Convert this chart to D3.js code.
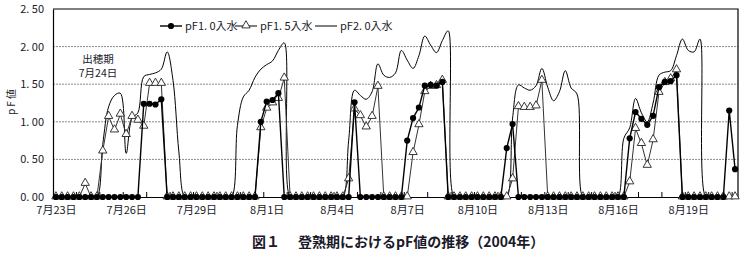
<!DOCTYPE html>
<html>
<head>
<meta charset="utf-8">
<script src="https://cdn.jsdelivr.net/npm/d3@7"></script>
<style>
  body { margin: 0; background: #fff; }
  text { font-family: "Noto Sans CJK JP", "DejaVu Sans", sans-serif; fill: #1a1a2a; }
</style>
</head>
<body>
<div id="chart"></div>
<script>
// 6-hourly readings, 7/23 0:00 .. 8/21 0:00 (117 points)
const dayLabels = ["7月23日", "7月26日", "7月29日", "8月1日", "8月4日", "8月7日", "8月10日", "8月13日", "8月16日", "8月19日"]
const yTicks = [0, 0.5, 1.0, 1.5, 2.0, 2.5]
const seriesNames = ["pF1. 0入水", "pF1. 5入水", "pF2. 0入水"]

const pf10 = [
  0, 0, 0, 0, 0, 0, 0, 0, 0, 0, 0, 0,
  0, 0, 0, 1.24, 1.24, 1.23, 1.30, 0, 0, 0, 0, 0,
  0, 0, 0, 0, 0, 0, 0, 0, 0, 0, 0, 1.00,
  1.27, 1.29, 1.38, 0, 0, 0, 0, 0, 0, 0, 0, 0,
  0, 0, 0, 1.26, 0, 0, 0, 0, 0, 0, 0, 0,
  0.75, 1.05, 1.19, 1.48, 1.49, 1.48, 1.53, 0, 0, 0, 0, 0,
  0, 0, 0, 0, 0, 0.65, 0.97, 0, 0, 0, 0, 0,
  0, 0, 0, 0, 0, 0, 0, 0, 0, 0, 0, 0,
  0, 0, 0.78, 1.13, 1.04, 0.96, 1.08, 1.46, 1.53, 1.54, 1.62, 0,
  0, 0, 0, 0, 0, 0, 0, 1.15, 0.37
]
const pf15 = [
  0, 0, 0, 0, 0, 0.18, 0, 0, 0.61, 1.07, 0.89, 1.10,
  0.83, 1.07, 1.02, 0.94, 1.51, 1.51, 1.51, 0, 0, 0, 0, 0,
  0, 0, 0, 0, 0, 0, 0, 0, 0, 0, 0, 0.92,
  1.18, 1.25, 1.31, 1.58, 0, 0, 0, 0, 0, 0, 0, 0,
  0, 0, 0.24, 1.17, 1.08, 0.93, 1.07, 1.47, 0, 0, 0, 0,
  0, 0.59, 0.96, 1.40, 1.47, 1.48, 1.55, 0, 0, 0, 0, 0,
  0, 0, 0, 0, 0, 0, 0.24, 1.20, 1.19, 1.19, 1.21, 1.55,
  0, 0, 0, 0, 0, 0, 0, 0, 0, 0, 0, 0,
  0, 0, 0.20, 0.91, 0.71, 0.42, 0.76, 1.39, 1.52, 1.57, 1.69, 0,
  0, 0, 0, 0, 0, 0, 0, 0, 0
]
const pf20 = [
  0, 0, 0, 0, 0, 0, 0, 0, 0.70, 1.20, 1.35, 1.38,
  0.58, 1.05, 1.12, 1.60, 1.63, 1.65, 1.70, 1.93, 1.55, 0.60, 0, 0,
  0, 0, 0, 0, 0, 0, 0, 0.95, 1.33, 1.42, 1.59, 1.70,
  1.76, 1.81, 1.95, 2.05, 0, 0, 0, 0, 0, 0, 0, 0,
  0, 0, 0.75, 1.42, 1.35, 1.30, 1.40, 1.77, 1.62, 1.59, 1.65, 1.95,
  1.82, 1.71, 1.88, 2.14, 2.02, 1.92, 2.08, 2.21, 0, 0, 0, 0,
  0, 0, 0, 0, 0, 0, 1.05, 1.49, 1.45, 1.42, 1.48, 1.71,
  1.46, 1.28, 1.40, 1.68, 1.45, 1.37, 0, 0, 0, 0, 0, 0,
  0, 0.78, 0.92, 1.31, 1.12, 1.00, 1.25, 1.62, 1.66, 1.68, 1.88, 2.10,
  1.95, 1.93, 2.10, 0, 0, 0, 0, 0, 0
]

const width = 746, height = 270
const plotL = 53, plotR = 738, plotT = 9, plotB = 197

const svg = d3.select("#chart").append("svg")
    .attr("width", width)
    .attr("height", height)

const x = d3.scalePoint()
    .domain(d3.range(pf10.length))
    .range([plotL, plotR])
    .padding(0.5)
const step = x.step()

const y = d3.scaleLinear()
    .domain([0, 2.5])
    .range([plotB, plotT])

// clip so the smoothed line doesn't dip under the axis
svg.append("clipPath").attr("id", "plotclip")
  .append("rect")
    .attr("x", plotL).attr("y", plotT - 2)
    .attr("width", plotR - plotL).attr("height", plotB - plotT + 2)

// grid lines
svg.selectAll(".grid")
  .data(yTicks.filter(d => d > 0 && d < 2.5))
  .enter().append("line")
    .attr("x1", plotL).attr("x2", plotR)
    .attr("y1", d => y(d)).attr("y2", d => y(d))
    .attr("stroke", "#8a8a8a")
    .attr("stroke-width", 1)
    .attr("stroke-dasharray", "2,1")

// frame (top + right)
svg.append("path")
    .attr("d", `M${plotL},${plotT}H${plotR}V${plotB}`)
    .attr("fill", "none")
    .attr("stroke", "#000")
    .attr("stroke-width", 1.2)

// y axis
const yAxis = svg.append("g")
    .attr("transform", `translate(${plotL},0)`)
    .call(d3.axisLeft(y).tickValues(yTicks).tickSize(0).tickPadding(9)
      .tickFormat(d => d.toFixed(2).replace(".", ". ")))
yAxis.select(".domain").attr("stroke", "#000").attr("stroke-width", 1.2)
yAxis.selectAll("text").style("font-size", "11px")

// x axis, label every 3 days
const xAxis = svg.append("g")
    .attr("transform", `translate(0,${plotB})`)
    .call(d3.axisBottom(x).tickValues(d3.range(0, pf10.length, 12)).tickSize(0).tickPadding(9)
      .tickFormat(i => dayLabels[i / 12]))
xAxis.select(".domain").attr("stroke", "#000").attr("stroke-width", 1.2)
xAxis.selectAll("text").style("font-size", "11px")

// day tick marks, between categories, pointing up
svg.selectAll(".dayTick")
  .data(d3.range(0, pf10.length, 4).slice(1))
  .enter().append("line")
    .attr("x1", d => x(d) - step / 2).attr("x2", d => x(d) - step / 2)
    .attr("y1", plotB).attr("y2", plotB - 5)
    .attr("stroke", "#000")

const idx = d3.range(pf10.length)

// pF2.0 : smooth line, no markers
svg.append("path")
    .datum(idx)
    .attr("clip-path", "url(#plotclip)")
    .attr("fill", "none")
    .attr("stroke", "#000")
    .attr("stroke-width", 1)
    .attr("d", d3.line().x(i => x(i)).y(i => y(pf20[i])).curve(d3.curveCatmullRom.alpha(0.5)))

// pF1.5 : line + open triangles
svg.append("path")
    .datum(idx)
    .attr("fill", "none")
    .attr("stroke", "#333")
    .attr("stroke-width", 1)
    .attr("d", d3.line().x(i => x(i)).y(i => y(pf15[i])))

const tri = d3.symbol().type(d3.symbolTriangle).size(30)
svg.selectAll(".tri")
  .data(idx)
  .enter().append("path")
    .attr("d", tri)
    .attr("transform", i => `translate(${x(i)},${y(pf15[i]) - 0.5})`)
    .attr("fill", "#fff")
    .attr("stroke", "#222")
    .attr("stroke-width", 0.9)

// pF1.0 : line + filled dots
svg.append("path")
    .datum(idx)
    .attr("fill", "none")
    .attr("stroke", "#000")
    .attr("stroke-width", 1.4)
    .attr("d", d3.line().x(i => x(i)).y(i => y(pf10[i])))

svg.selectAll(".dot")
  .data(idx)
  .enter().append("circle")
    .attr("cx", i => x(i))
    .attr("cy", i => y(pf10[i]))
    .attr("r", 3.1)
    .attr("fill", "#000")

// legend
const lg = svg.append("g").style("font-size", "11px")
const legendX = [160, 235, 315]
legendX.forEach((lx, k) => {
  lg.append("line")
      .attr("x1", lx).attr("x2", lx + 22)
      .attr("y1", 26).attr("y2", 26)
      .attr("stroke", "#000").attr("stroke-width", k == 0 ? 1.4 : 1)
  if (k == 0) lg.append("circle").attr("cx", lx + 11).attr("cy", 26).attr("r", 3.1).attr("fill", "#000")
  if (k == 1) lg.append("path").attr("d", tri).attr("transform", `translate(${lx + 11},25.5)`)
      .attr("fill", "#fff").attr("stroke", "#222").attr("stroke-width", 0.9)
  lg.append("text")
      .attr("x", lx + 25).attr("y", 30)
      .text(seriesNames[k])
})

// heading-date note
svg.append("text").attr("x", 98).attr("y", 63).attr("text-anchor", "middle")
    .style("font-size", "10.5px").text("出穂期")
svg.append("text").attr("x", 98).attr("y", 77).attr("text-anchor", "middle")
    .style("font-size", "10.5px").text("7月24日")

// y title
svg.append("text")
    .attr("transform", "translate(15,102) rotate(-90)")
    .attr("text-anchor", "middle")
    .style("font-size", "10px")
    .text("p F 値")

// caption
const cap = svg.append("g").style("font-size", "14px").style("font-weight", "bold")
cap.append("text").attr("x", 252).attr("y", 247).text("図１")
cap.append("text").attr("x", 298).attr("y", 247).text("登熟期におけるpF値の推移（2004年）")
</script>
</body>
</html>
